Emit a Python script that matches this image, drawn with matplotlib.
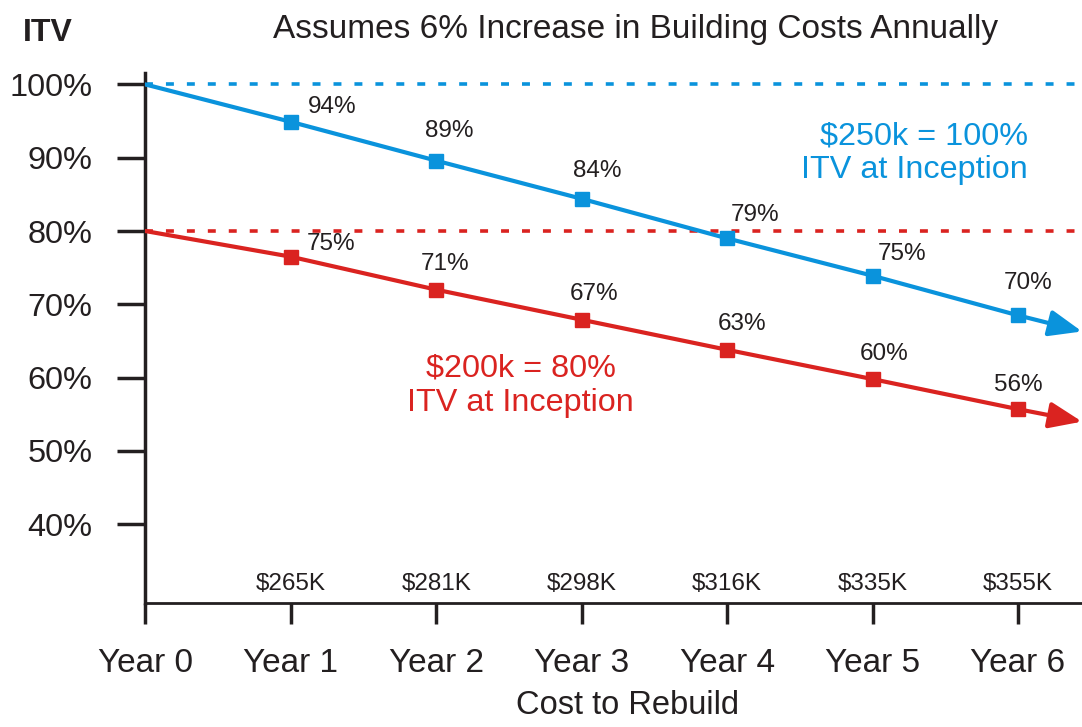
import matplotlib
matplotlib.use('Agg')
import matplotlib.pyplot as plt

# data
years = [0, 1, 2, 3, 4, 5, 6]
year_labels = ['Year 0', 'Year 1', 'Year 2', 'Year 3', 'Year 4', 'Year 5', 'Year 6']
rebuild_costs = ['', '$265K', '$281K', '$298K', '$316K', '$335K', '$355K']

itv_250k = [100, 94.9, 89.6, 84.4, 79.0, 73.9, 68.5]
itv_250k_labels = ['', '94%', '89%', '84%', '79%', '75%', '70%']
itv_200k = [80, 76.5, 72.0, 67.9, 63.8, 59.8, 55.7]
itv_200k_labels = ['', '75%', '71%', '67%', '63%', '60%', '56%']

arrow_x = 6.44
arrow_250k = 66.3
arrow_200k = 54.0

y_ticks = [40, 50, 60, 70, 80, 90, 100]

BLUE = '#0a93dc'
RED = '#da2320'
TXT = '#231f20'

plt.rcParams['font.family'] = ['Liberation Sans', 'DejaVu Sans']

fig = plt.figure(figsize=(10.82, 7.27), dpi=100)
ax = fig.add_axes([0.1343, 0.170, 0.8657, 0.730])

# reference lines at inception ITV
ax.axhline(100, color=BLUE, lw=2.6, linestyle=(0, (2.2, 3.6)), zorder=1)
ax.axhline(80, color=RED, lw=2.6, linestyle=(0, (2.2, 3.6)), zorder=1)

# main lines with markers (no marker at year 0)
ax.plot(years, itv_250k, color=BLUE, lw=3, marker='s', ms=9.5,
        markevery=slice(1, None), zorder=3)
ax.plot(years, itv_200k, color=RED, lw=3, marker='s', ms=9.5,
        markevery=slice(1, None), zorder=3)

# arrow tails
for vals, end, col in [(itv_250k, arrow_250k, BLUE), (itv_200k, arrow_200k, RED)]:
    ax.annotate('', xy=(arrow_x, end), xytext=(years[-1], vals[-1]),
                arrowprops=dict(arrowstyle='-|>,head_length=2.0,head_width=0.8',
                                color=col, lw=3, shrinkA=0, shrinkB=0),
                annotation_clip=False, zorder=3)

# point labels (offsets in pixels)
offs_250k = [(0, 0), (41, 15), (13, 30), (16, 28), (28, 23), (30, 22), (10, 32)]
offs_200k = [(0, 0), (40, 13), (9, 26), (12, 26), (15, 26), (12, 25), (0, 24)]
for x, y, lab, off in zip(years, itv_250k, itv_250k_labels, offs_250k):
    if lab:
        ax.annotate(lab, (x, y), xytext=off, textcoords='offset pixels',
                    ha='center', va='center', fontsize=17.5, color=TXT)
for x, y, lab, off in zip(years, itv_200k, itv_200k_labels, offs_200k):
    if lab:
        ax.annotate(lab, (x, y), xytext=off, textcoords='offset pixels',
                    ha='center', va='center', fontsize=17.5, color=TXT)

# rebuild cost labels just above the x axis
for x, lab in zip(years, rebuild_costs):
    ax.text(x, 31.8, lab, ha='center', va='center', fontsize=17.5, color=TXT)

# series captions
ax.text(6.07, 90.6, '$250k = 100%\nITV at Inception', color=BLUE, fontsize=23.3,
        ha='right', va='center', linespacing=1.18)
ax.text(2.58, 58.9, '$200k = 80%\nITV at Inception', color=RED, fontsize=23.3,
        ha='center', va='center', linespacing=1.18)

ax.set_xlim(0, 6.44)
ax.set_ylim(29.2, 101.6)
ax.set_xticks(years)
ax.set_xticklabels(year_labels)
ax.set_yticks(y_ticks)
ax.set_yticklabels([f'{v}%' for v in y_ticks])
ax.tick_params(axis='x', length=15, width=2.5, labelsize=24, pad=17, colors=TXT)
ax.tick_params(axis='y', length=20, width=2.5, labelsize=23.4, pad=18, colors=TXT)
for s in ['top', 'right']:
    ax.spines[s].set_visible(False)
ax.spines['left'].set_linewidth(2.5)
ax.spines['bottom'].set_linewidth(2)
ax.spines['left'].set_color(TXT)
ax.spines['bottom'].set_color(TXT)

ax.set_xlabel('Cost to Rebuild', fontsize=23.5, color=TXT)
ax.xaxis.set_label_coords(0.515, -0.164)

fig.text(0.587, 0.959, 'Assumes 6% Increase in Building Costs Annually',
         ha='center', va='center', fontsize=24, color=TXT)
fig.text(0.044, 0.955, 'ITV', ha='center', va='center', fontsize=23,
         fontweight='bold', color=TXT)

fig.savefig('out.png', dpi=100)
